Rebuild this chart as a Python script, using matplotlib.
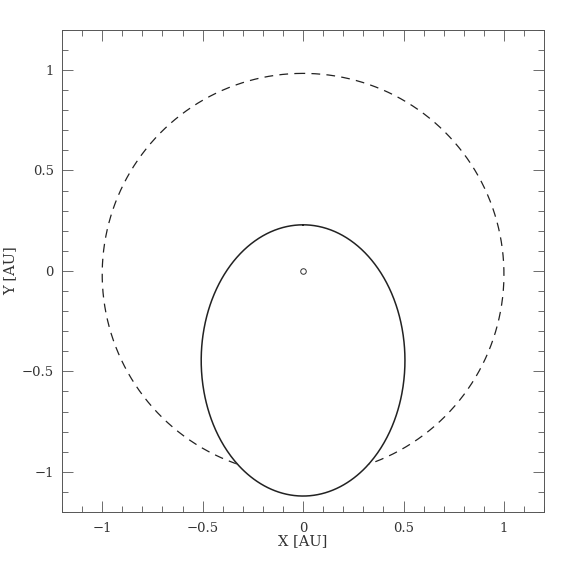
import numpy as np
import matplotlib
matplotlib.use("Agg")
import matplotlib.pyplot as plt
from matplotlib.ticker import MultipleLocator

# orbit elements: semi-major axis [AU], eccentricity, perihelion direction [deg]
orbit_names = ["Earth", "Object"]
semi_major = [1.0, 0.675]
eccentricity = [0.0167, 0.66]
perihelion_angle = [90.0, 90.0]
line_styles = [(0, (7, 5)), "-"]
line_widths = [0.9, 1.1]
fill_inside = [False, True]

# Sun position
sun_x = [0.0]
sun_y = [0.0]


def orbit_xy(a, e, w_deg, n=720):
    """
    :param a: semi-major axis
    :param e: eccentricity
    :param w_deg: direction of perihelion, degrees
    :return: x, y of orbit with focus at origin
    """
    nu = np.linspace(0, 2 * np.pi, n)
    r = a * (1 - e ** 2) / (1 + e * np.cos(nu))
    w = np.radians(w_deg)
    return r * np.cos(nu + w), r * np.sin(nu + w)


def fmt(v, p):
    s = '%g' % v
    if s in ('-0', '0'):
        return '0'
    return s.replace('-', '\u2212')


plt.rcParams['font.family'] = ['DejaVu Serif']
fig = plt.figure(figsize=(5.74, 5.74), dpi=100)
ax = fig.add_axes([0.108, 0.108, 0.840, 0.840])

for i, (a, e, w, ls, lw) in enumerate(zip(semi_major, eccentricity, perihelion_angle,
                                            line_styles, line_widths)):
    x, y = orbit_xy(a, e, w)
    if fill_inside[i]:
        # the orbit hides what lies inside it
        ax.fill(x, y, color='white', zorder=2 + i)
    ax.plot(x, y, color='#222222', linestyle=ls, linewidth=lw, zorder=2 + i)

ax.plot(sun_x, sun_y, marker='o', markersize=4, markerfacecolor='none',
        markeredgecolor='#333333', markeredgewidth=0.7, linestyle='none', zorder=5)

ax.set_xlim(-1.2, 1.2)
ax.set_ylim(-1.2, 1.2)
ax.xaxis.set_major_locator(MultipleLocator(0.5))
ax.yaxis.set_major_locator(MultipleLocator(0.5))
ax.xaxis.set_minor_locator(MultipleLocator(0.1))
ax.yaxis.set_minor_locator(MultipleLocator(0.1))
ax.tick_params(which='both', direction='in', top=True, right=True,
               color='#555555', width=0.6, labelsize=9.5, labelcolor='#333333')
ax.tick_params(axis='x', pad=7)
ax.tick_params(axis='y', pad=6)
ax.tick_params(which='major', length=8)
ax.tick_params(which='minor', length=4)
for s in ax.spines.values():
    s.set_linewidth(0.7)
    s.set_color('#555555')

ax.xaxis.set_major_formatter(plt.FuncFormatter(fmt))
ax.yaxis.set_major_formatter(plt.FuncFormatter(fmt))

ax.set_xlabel('X [AU]', fontsize=10.5, color='#333333')
ax.set_ylabel('Y [AU]', fontsize=10.5, color='#333333')
ax.xaxis.set_label_coords(0.5, -0.045)
ax.yaxis.set_label_coords(-0.092, 0.5)

fig.savefig('out.png', dpi=100)
